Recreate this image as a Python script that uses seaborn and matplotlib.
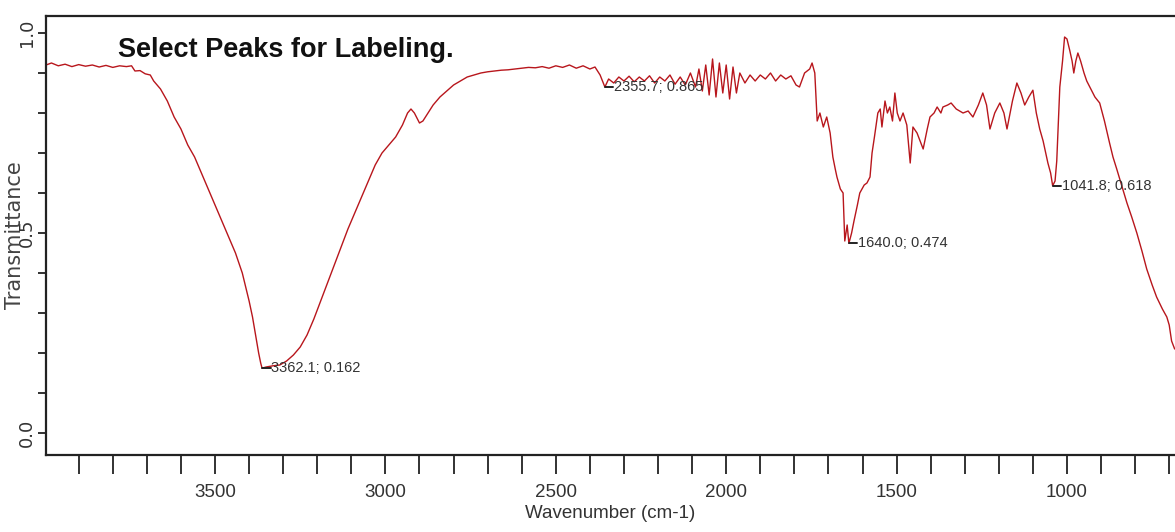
import numpy as np
import pandas as pd
import seaborn as sns
import matplotlib.pyplot as plt

# spectrum (wavenumber cm-1, transmittance)
wavenumber = [
    3996, 3980, 3960, 3940, 3920, 3900, 3880, 3860, 3840, 3820, 3800, 3780,
    3760, 3745, 3735, 3720, 3705, 3690, 3680, 3660, 3640, 3620, 3600, 3580,
    3560, 3540, 3520, 3500, 3480, 3460, 3440, 3420, 3400, 3390, 3380, 3372,
    3366, 3362, 3350, 3330, 3310, 3290, 3270, 3250, 3230, 3210, 3190, 3170,
    3150, 3130, 3110, 3090, 3070, 3050, 3030, 3010, 2990, 2970, 2950, 2935,
    2925, 2915, 2900, 2890, 2875, 2860, 2840, 2820, 2800, 2780, 2760, 2740,
    2720, 2700, 2680, 2660, 2640, 2620, 2600, 2580, 2560, 2540, 2520, 2500,
    2480, 2460, 2440, 2420, 2400, 2385, 2370, 2356, 2345, 2330, 2315, 2300,
    2285, 2270, 2255, 2240, 2225, 2210, 2195, 2180, 2165, 2150, 2135, 2120,
    2105, 2090, 2080, 2070, 2060, 2050, 2040, 2030, 2020, 2010, 2000, 1990,
    1980, 1970, 1960, 1945, 1930, 1915, 1900, 1885, 1870, 1855, 1840, 1825,
    1810, 1795, 1785, 1770, 1755, 1748, 1740, 1733, 1725, 1715, 1705, 1695,
    1687, 1680, 1675, 1665, 1657, 1652, 1645, 1640, 1632, 1625, 1615, 1608,
    1595, 1587, 1578, 1572, 1565, 1555, 1548, 1543, 1534, 1527, 1520, 1512,
    1505, 1498, 1490, 1481, 1470, 1460, 1452, 1440, 1431, 1422, 1410, 1402,
    1390, 1381, 1370, 1364, 1350, 1340, 1325, 1305, 1290, 1276, 1260, 1247,
    1236, 1226, 1212, 1197, 1185, 1176, 1160, 1147, 1135, 1124, 1112, 1100,
    1090, 1080, 1070, 1065, 1056, 1048, 1042, 1035, 1030, 1021, 1013, 1007,
    1000, 992, 985, 980, 974, 968, 960, 950, 942, 930, 918, 904,
    890, 875, 865, 854, 840, 824, 810, 795, 780, 766, 750, 737,
    720, 707, 700, 693, 684,
]
transmittance = [
    0.920, 0.925, 0.918, 0.922, 0.916, 0.921, 0.917, 0.920, 0.915, 0.919, 0.914, 0.918,
    0.916, 0.918, 0.905, 0.906, 0.898, 0.895, 0.880, 0.860, 0.830, 0.790, 0.760, 0.720,
    0.690, 0.650, 0.610, 0.570, 0.530, 0.490, 0.450, 0.400, 0.330, 0.290, 0.240, 0.200,
    0.175, 0.162, 0.165, 0.168, 0.170, 0.180, 0.195, 0.215, 0.245, 0.285, 0.330, 0.375,
    0.420, 0.465, 0.510, 0.550, 0.590, 0.630, 0.670, 0.700, 0.720, 0.740, 0.770, 0.800,
    0.810, 0.800, 0.775, 0.780, 0.800, 0.820, 0.840, 0.855, 0.870, 0.880, 0.890, 0.895,
    0.900, 0.903, 0.905, 0.907, 0.908, 0.910, 0.912, 0.914, 0.913, 0.916, 0.912, 0.918,
    0.914, 0.920, 0.912, 0.918, 0.910, 0.915, 0.895, 0.865, 0.885, 0.875, 0.890, 0.880,
    0.892, 0.878, 0.890, 0.880, 0.893, 0.875, 0.890, 0.880, 0.895, 0.872, 0.890, 0.870,
    0.900, 0.865, 0.910, 0.855, 0.920, 0.845, 0.935, 0.840, 0.925, 0.850, 0.920, 0.835,
    0.915, 0.850, 0.900, 0.875, 0.895, 0.880, 0.895, 0.885, 0.900, 0.880, 0.895, 0.885,
    0.893, 0.870, 0.865, 0.900, 0.910, 0.925, 0.900, 0.780, 0.800, 0.765, 0.790, 0.750,
    0.690, 0.660, 0.640, 0.610, 0.600, 0.480, 0.520, 0.474, 0.500, 0.530, 0.570, 0.600,
    0.620, 0.625, 0.640, 0.700, 0.740, 0.800, 0.810, 0.765, 0.830, 0.800, 0.815, 0.780,
    0.850, 0.800, 0.780, 0.800, 0.770, 0.675, 0.765, 0.750, 0.730, 0.710, 0.760, 0.790,
    0.800, 0.815, 0.800, 0.815, 0.820, 0.825, 0.810, 0.800, 0.805, 0.790, 0.820, 0.850,
    0.820, 0.760, 0.800, 0.825, 0.800, 0.760, 0.830, 0.875, 0.850, 0.820, 0.840, 0.857,
    0.800, 0.760, 0.730, 0.710, 0.675, 0.650, 0.618, 0.630, 0.680, 0.865, 0.930, 0.990,
    0.985, 0.957, 0.930, 0.900, 0.930, 0.950, 0.930, 0.900, 0.880, 0.860, 0.840, 0.825,
    0.780, 0.725, 0.690, 0.660, 0.620, 0.575, 0.540, 0.500, 0.455, 0.410, 0.370, 0.340,
    0.310, 0.290, 0.270, 0.230, 0.210,
]

# labelled peaks
peak_wn = [3362.1, 2355.7, 1640.0, 1041.8]
peak_t = [0.162, 0.865, 0.474, 0.618]

x_major = [3500, 3000, 2500, 2000, 1500, 1000]
y_major = [0.0, 0.5, 1.0]

sns.set_style("ticks")
plt.rcParams["font.family"] = ["DejaVu Sans"]
narrow = ["Liberation Sans Narrow", "Liberation Sans"]

spec = pd.DataFrame({"wn": wavenumber, "T": transmittance})

fig = plt.figure(figsize=(11.75, 5.32), dpi=100)
ax = fig.add_axes([46 / 1175, 77 / 532, 1 - 46 / 1175, (532 - 16 - 77) / 532])

sns.lineplot(data=spec, x="wn", y="T", ax=ax, color="#b8161c", lw=1.0,
             estimator=None, sort=False, legend=False)

ax.set_xlim(3996, 683)
ax.set_ylim(-0.055, 1.0425)

# peak markers + labels
for w, t in zip(peak_wn, peak_t):
    ax.plot([w, w - 25], [t, t], color="#222222", lw=1.4)
    ax.text(w - 27, t, f"{w:.1f}; {t:.3f}", family=narrow, fontsize=10.5,
            color="#333333", ha="left", va="center")

# axes styling
ax.set_xticks(x_major)
ax.set_xticks(np.arange(3900, 683, -100), minor=True)
ax.set_yticks(y_major)
ax.set_yticks(np.arange(0.0, 1.05, 0.1), minor=True)
ax.set_xticklabels([str(v) for v in x_major], family=narrow, fontsize=13.5,
                   color="#333333")
ax.set_yticklabels([f"{v:.1f}" for v in y_major], rotation=90, va="center",
                   fontsize=13, color="#333333")
ax.tick_params(axis="x", which="both", direction="out", length=14, width=1.3,
               color="#222222", pad=7)
ax.tick_params(axis="y", which="both", direction="out", length=6, width=1.3,
               color="#222222", pad=1)

for side in ["left", "top", "bottom"]:
    ax.spines[side].set_linewidth(1.6)
    ax.spines[side].set_color("#222222")
ax.spines["right"].set_visible(False)

ax.set_xlabel("Wavenumber (cm-1)", family=narrow, fontsize=13.5, color="#333333",
              labelpad=3)
ax.set_ylabel("Transmittance", fontsize=15, color="#444444", labelpad=0)
ax.yaxis.set_label_coords(-0.019, 0.5)

ax.text(0.064, 0.907, "Select Peaks for Labeling.", transform=ax.transAxes,
        family=narrow, fontsize=19.5, fontweight="bold", color="#111111",
        ha="left", va="baseline")

fig.savefig("out.png", dpi=100)
